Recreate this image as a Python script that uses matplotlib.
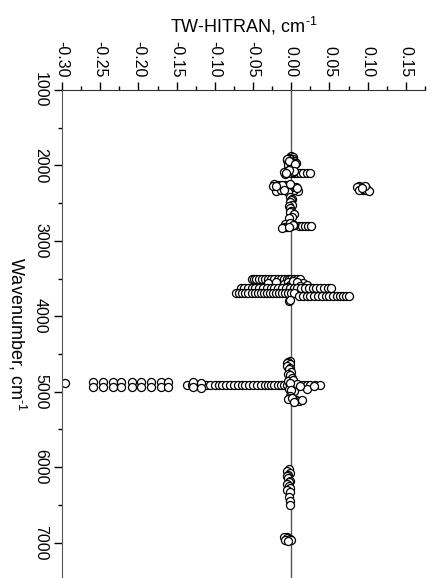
import matplotlib
matplotlib.use("Agg")
import matplotlib.pyplot as plt
from matplotlib.ticker import MultipleLocator, FormatStrFormatter

plt.rcParams['font.family'] = ['Liberation Sans', 'DejaVu Sans']
plt.rcParams['mathtext.fontset'] = 'custom'
plt.rcParams['mathtext.rm'] = 'Liberation Sans'
plt.rcParams['mathtext.it'] = 'Liberation Sans'

# --- data: (wavenumber, TW-HITRAN difference) ---
wn_a = [1880, 1890, 1900, 1910, 1920, 1930, 1940, 1950, 1960, 1970, 1980, 1990, 2000, 1915, 1945, 1975]
df_a = [0.000, 0.002, -0.003, 0.002, -0.001, -0.005, 0.004, 0.001, -0.002, 0.006, 0.003, -0.004,
        0.000, -0.006, -0.003, 0.005]

wn_b = [2070, 2080, 2090, 2095, 2100, 2100, 2105, 2100, 2100, 2100, 2110, 2090, 2085, 2075, 2060, 2095]
df_b = [-0.006, -0.004, -0.002, 0.000, 0.003, 0.008, 0.012, 0.016, 0.020, 0.024, -0.008, 0.002,
        -0.009, 0.004, -0.003, -0.007]

wn_c = [2250, 2260, 2270, 2280, 2290, 2300, 2310, 2320, 2330, 2340, 2345, 2340, 2330, 2270, 2300,
        2260, 2280, 2320, 2310, 2290, 2350, 2240, 2255, 2275, 2305, 2325]
df_c = [-0.022, -0.018, -0.015, -0.010, -0.006, -0.003, 0.000, 0.003, 0.006, 0.009, -0.020, -0.002,
        0.004, -0.024, -0.012, -0.008, 0.002, -0.014, -0.006, 0.006, -0.004, -0.002, -0.012,
        -0.020, 0.008, -0.009]

wn_d = [2270, 2280, 2290, 2300, 2310, 2320, 2330, 2335, 2290, 2275, 2325, 2305]
df_d = [0.088, 0.092, 0.095, 0.098, 0.090, 0.094, 0.098, 0.102, 0.086, 0.096, 0.089, 0.093]

wn_e = [2420, 2440, 2460, 2490, 2520, 2540, 2560, 2600, 2620, 2640, 2680, 2700]
df_e = [-0.002, 0.001, 0.000, -0.002, 0.001, -0.003, -0.001, 0.000, -0.002, 0.003, 0.001, -0.003]

wn_f = [2770, 2780, 2790, 2800, 2810, 2820, 2800, 2800, 2800, 2800, 2800, 2795, 2760, 2830, 2785, 2815]
df_f = [-0.005, -0.008, -0.003, 0.000, -0.010, -0.006, 0.010, 0.014, 0.018, 0.022, 0.026, 0.004,
        -0.002, -0.012, 0.002, -0.003]

wn_g1 = [3510] * 18
df_g1 = [-0.052, -0.049, -0.046, -0.042, -0.038, -0.034, -0.030, -0.026, -0.022, -0.018,
         -0.014, -0.010, -0.006, -0.003, 0.000, 0.004, 0.008, 0.012]
wn_g2 = [3560, 3550, 3570, 3560, 3580, 3570, 3560, 3590, 3540, 3600, 3580, 3530, 3610, 3545, 3595]
df_g2 = [-0.030, -0.020, -0.010, 0.000, 0.005, 0.010, 0.015, 0.020, -0.004, 0.003, -0.002,
         0.002, -0.006, 0.008, 0.012]
wn_g3 = [3630] * 25
df_g3 = [-0.066, -0.062, -0.057, -0.052, -0.047, -0.042, -0.037, -0.032, -0.027, -0.022,
         -0.017, -0.012, -0.007, -0.002, 0.003, 0.008, 0.013, 0.018, 0.023, 0.028,
         0.033, 0.038, 0.043, 0.048, 0.052]
wn_g4 = [3690] * 20
df_g4 = [-0.072, -0.068, -0.064, -0.060, -0.056, -0.052, -0.048, -0.044, -0.040, -0.036,
         -0.032, -0.028, -0.024, -0.020, -0.016, -0.012, -0.008, -0.004, 0.000, 0.004]
wn_g5 = [3730] * 15
df_g5 = [0.010, 0.015, 0.020, 0.025, 0.030, 0.035, 0.040, 0.045, 0.050, 0.055,
         0.060, 0.064, 0.068, 0.072, 0.076]
wn_g6 = [3800, 3780]
df_g6 = [-0.003, -0.001]

wn_h = [4590, 4600, 4620, 4630, 4660, 4680, 4700, 4740, 4760, 4780, 4820]
df_h = [-0.002, -0.004, -0.006, -0.002, -0.006, -0.001, -0.003, 0.000, -0.004, -0.002, 0.001]

wn_i1 = [4880]
df_i1 = [-0.296]
wn_i2 = [4870] * 9 + [4940] * 9
df_i2 = [-0.259, -0.246, -0.233, -0.223, -0.209, -0.196, -0.183, -0.170, -0.161] * 2
wn_i3 = [4910] * 36
df_i3 = [-0.136, -0.130, -0.124, -0.118, -0.112, -0.106, -0.100, -0.095, -0.090, -0.085,
         -0.080, -0.075, -0.070, -0.065, -0.060, -0.055, -0.050, -0.045, -0.040, -0.035,
         -0.030, -0.026, -0.022, -0.018, -0.014, -0.010, -0.006, -0.002, 0.002, 0.006,
         0.010, 0.015, 0.020, 0.025, 0.031, 0.037]
wn_i4 = [4870, 4940, 4880, 4950, 4860, 4850, 4970, 4990, 4960, 4900, 4930, 4890, 4920, 4980]
df_i4 = [-0.128, -0.128, -0.118, -0.118, -0.004, 0.002, -0.003, 0.003, 0.020, 0.008, 0.030,
         -0.002, 0.012, 0.000]

wn_j = [5060, 5090, 5100, 5110, 5120, 5110, 5100, 5080, 5130]
df_j = [-0.001, -0.002, 0.002, 0.006, 0.010, 0.014, -0.004, 0.001, 0.004]

wn_k = [6020, 6050, 6080, 6100, 6120, 6150, 6180, 6200, 6220, 6250, 6280, 6300, 6330, 6400, 6450, 6500]
df_k = [-0.003, -0.005, -0.002, -0.004, -0.006, -0.004, -0.001, -0.003, -0.005, -0.003, -0.001,
        -0.006, -0.002, -0.003, -0.001, -0.002]

wn_l = [6920, 6930, 6940, 6950, 6960, 6970, 6980]
df_l = [-0.005, -0.010, -0.006, -0.002, 0.000, -0.008, -0.004]

groups = [(wn_a, df_a), (wn_b, df_b), (wn_c, df_c), (wn_d, df_d), (wn_e, df_e), (wn_f, df_f),
          (wn_g1, df_g1), (wn_g2, df_g2), (wn_g3, df_g3), (wn_g4, df_g4), (wn_g5, df_g5),
          (wn_g6, df_g6), (wn_h, df_h), (wn_i1, df_i1), (wn_i2, df_i2), (wn_i3, df_i3),
          (wn_i4, df_i4), (wn_j, df_j), (wn_k, df_k), (wn_l, df_l)]

x_ticks = [-0.30, -0.25, -0.20, -0.15, -0.10, -0.05, 0.00, 0.05, 0.10, 0.15]
y_ticks = [1000, 2000, 3000, 4000, 5000, 6000, 7000]

fig = plt.figure(figsize=(4.32, 5.78), dpi=100)
ax = fig.add_axes([62 / 432, 0.0, 363 / 432, 1 - 90 / 578])

ax.axvline(0.0, color='#555555', lw=1.0, zorder=1)
for wn, df in groups:
    ax.plot(df, wn, linestyle='none', marker='o', markersize=5.8,
            markerfacecolor='white', markeredgecolor='black', markeredgewidth=0.9, zorder=2)

ax.set_xlim(-0.30, 0.175)
ax.set_ylim(7470, 1000)

ax.spines['right'].set_visible(False)
ax.spines['bottom'].set_visible(False)
ax.spines['left'].set_color('#555555')
ax.spines['top'].set_color('#333333')

ax.xaxis.tick_top()
ax.xaxis.set_label_position('top')
ax.set_xticks(x_ticks)
ax.xaxis.set_major_formatter(FormatStrFormatter('%.2f'))
ax.xaxis.set_minor_locator(MultipleLocator(0.025))
ax.set_yticks(y_ticks)
ax.yaxis.set_minor_locator(MultipleLocator(500))

ax.tick_params(axis='x', which='major', direction='out', length=6, width=1, labelsize=11.5,
               labelrotation=270, pad=3)
ax.tick_params(axis='x', which='minor', direction='out', length=3, width=1)
ax.tick_params(axis='y', which='major', direction='out', length=6, width=1, labelsize=11.5,
               labelrotation=270, pad=4)
ax.tick_params(axis='y', which='minor', direction='out', length=3, width=1)
for lab in ax.get_yticklabels():
    lab.set_va('center')

ax.set_xlabel('TW-HITRAN, cm$^{\\text{-1}}$', fontsize=13, labelpad=6)
ax.set_ylabel('Wavenumber, cm$^{\\text{-1}}$', fontsize=13, rotation=270, va='center', ha='center')
ax.yaxis.set_label_coords(-0.125, 0.5)

fig.savefig('out.png', dpi=100)
